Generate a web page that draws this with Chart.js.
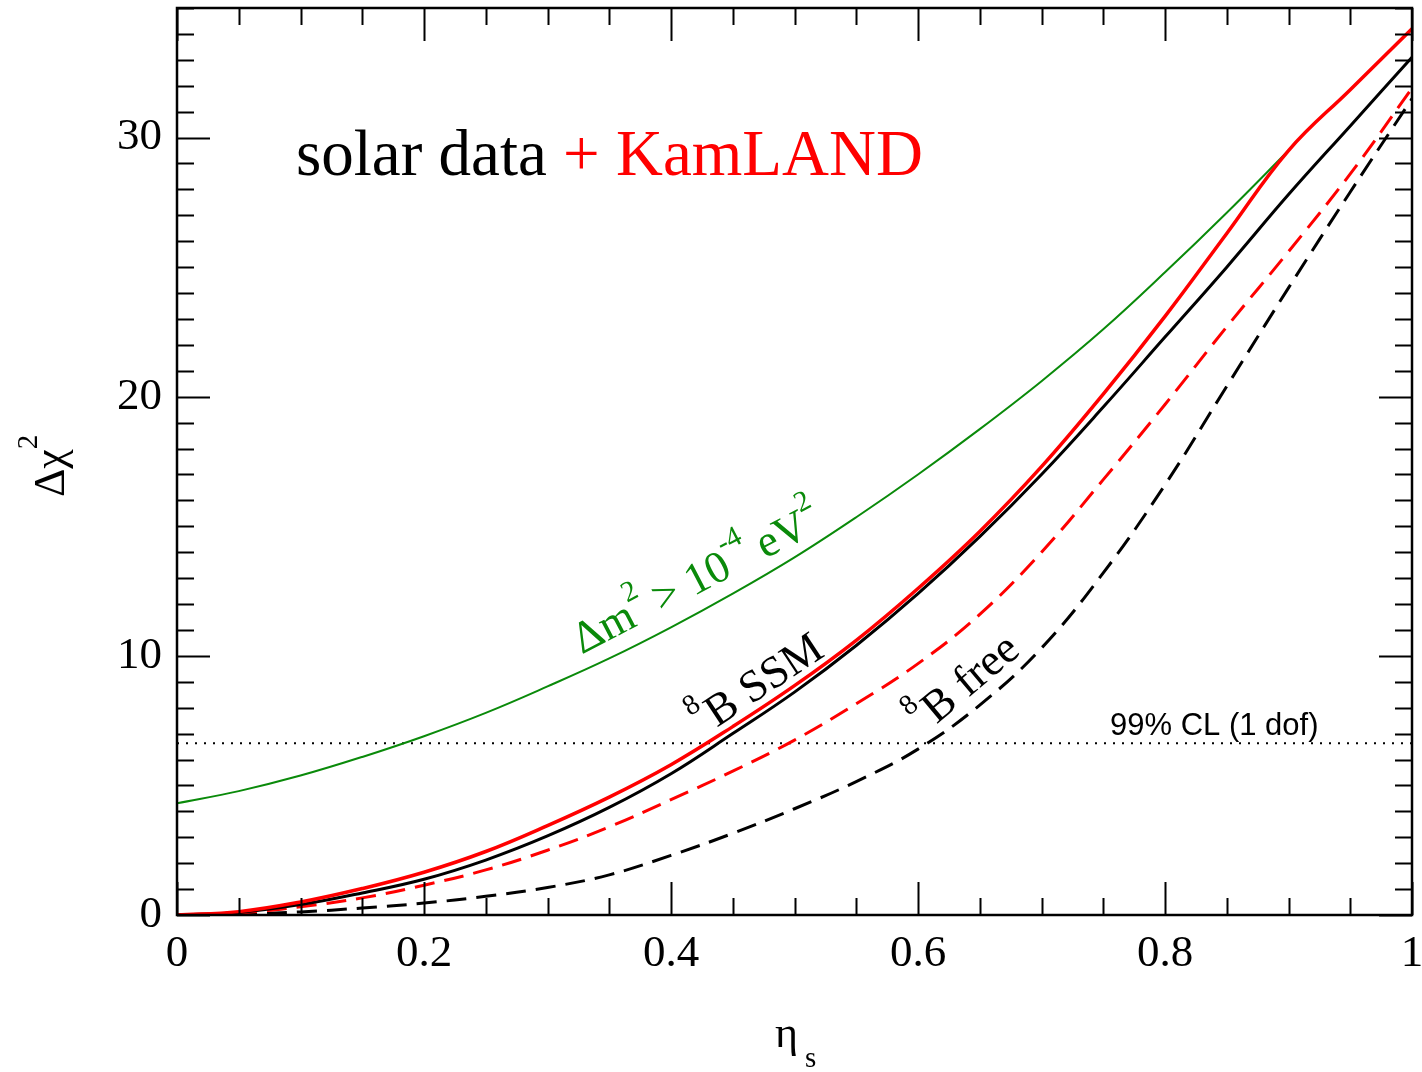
<!DOCTYPE html>
<html>
<head>
<meta charset="utf-8">
<script src="https://cdn.jsdelivr.net/npm/chart.js@4.4.0/dist/chart.umd.min.js"></script>
<style>
  html, body { margin: 0; padding: 0; background: #fff; }
  #chart { display: block; }
</style>
</head>
<body>
<canvas id="chart" width="1422" height="1072"></canvas>
<script>
// eta_s grid, step 0.05
const eta = [0, 0.05, 0.1, 0.15, 0.2, 0.25, 0.3, 0.35, 0.4, 0.45, 0.5,
             0.55, 0.6, 0.65, 0.7, 0.75, 0.8, 0.85, 0.9, 0.95, 1];

// 8B SSM, solar data (black solid)
const ssmSolar = [0, 0.1, 0.4, 0.85, 1.38, 2.12, 3.05, 4.15, 5.45, 7.0, 8.6,
                  10.4, 12.4, 14.6, 17.0, 19.6, 22.3, 25.0, 27.8, 30.45, 33.1];
// 8B SSM, solar + KamLAND (red solid)
const ssmKamland = [0, 0.13, 0.5, 1.02, 1.65, 2.45, 3.45, 4.55, 5.8, 7.27, 8.85,
                    10.6, 12.6, 14.8, 17.3, 20.1, 23.1, 26.3, 29.5, 31.85, 34.2];
// 8B free, solar data (black dashed)
const freeSolar = [0, 0.03, 0.12, 0.27, 0.46, 0.72, 1.06, 1.55, 2.3, 3.15, 4.1,
                   5.15, 6.4, 8.1, 10.3, 13.2, 16.6, 20.4, 24.2, 27.9, 31.5];
// 8B free, solar + KamLAND (red dashed)
const freeKamland = [0, 0.08, 0.32, 0.66, 1.15, 1.74, 2.5, 3.4, 4.45, 5.55, 6.75,
                     8.15, 9.7, 11.6, 14.0, 16.8, 19.7, 22.7, 25.6, 28.6, 31.9];
// Dm2 > 1e-4 eV2 (green), drawn up to eta = 0.9
const highDm2 = [4.31, 4.78, 5.38, 6.1, 6.9, 7.8, 8.82, 9.9, 11.1, 12.4, 13.8,
                 15.35, 17.0, 18.75, 20.6, 22.6, 24.8, 27.1, 29.5];

const clLevel = 6.63; // 99% CL, 1 dof

const xMajor = [0, 0.2, 0.4, 0.6, 0.8, 1];
const xMajorLabels = ['0', '0.2', '0.4', '0.6', '0.8', '1'];
const yMajor = [0, 10, 20, 30];
const yMajorLabels = ['0', '10', '20', '30'];

const SERIF = '"Liberation Serif", "Times New Roman", serif';
const SANS = '"Liberation Sans", Arial, sans-serif';
const GREEN = '#0a8a0a';

function pts(values) {
    return values.map((v, i) => ({ x: eta[i], y: v }));
}

function majorIndex(list, v) {
    return list.findIndex(m => Math.abs(m - v) < 1e-6);
}

// inward ticks on all four sides plus the frame
const framePlugin = {
    id: 'frame',
    afterDatasetsDraw(chart) {
        const { ctx, chartArea: a, scales: { x, y } } = chart;
        ctx.save();
        ctx.strokeStyle = '#000';
        ctx.lineWidth = 2;
        ctx.beginPath();
        x.ticks.forEach(t => {
            const px = Math.round(x.getPixelForValue(t.value)) + 0.5;
            const len = majorIndex(xMajor, t.value) >= 0 ? 33 : 17;
            ctx.moveTo(px, a.bottom); ctx.lineTo(px, a.bottom - len);
            ctx.moveTo(px, a.top); ctx.lineTo(px, a.top + len);
        });
        y.ticks.forEach(t => {
            const py = Math.round(y.getPixelForValue(t.value)) + 0.5;
            const len = majorIndex(yMajor, t.value) >= 0 ? 33 : 17;
            ctx.moveTo(a.left, py); ctx.lineTo(a.left + len, py);
            ctx.moveTo(a.right, py); ctx.lineTo(a.right - len, py);
        });
        ctx.stroke();
        ctx.lineWidth = 2.5;
        ctx.strokeRect(a.left, a.top, a.width, a.height);
        ctx.restore();
    }
};

// curve labels (anchor = baseline start of the main text)
const curveNotes = [
    { sup: '8', text: 'B SSM', eta: 0.437, chi: 7.23, angle: 33.5 },
    { sup: '8', text: 'B free', eta: 0.615, chi: 7.35, angle: 40 }
];

function drawRun(ctx, parts, size, supSize, raise) {
    // parts: [text, isSup]
    let xPos = 0;
    parts.forEach(([txt, sup]) => {
        ctx.font = (sup ? supSize : size) + 'px ' + SERIF;
        ctx.fillText(txt, xPos, sup ? -raise : 0);
        xPos += ctx.measureText(txt).width;
    });
}

const textPlugin = {
    id: 'texts',
    afterDraw(chart) {
        const { ctx, scales: { x, y } } = chart;
        ctx.save();
        ctx.textBaseline = 'alphabetic';
        ctx.textAlign = 'left';

        // title
        ctx.font = '65px ' + SERIF;
        ctx.fillStyle = '#000';
        ctx.fillText('solar data ', 296, 175);
        const w = ctx.measureText('solar data ').width;
        ctx.fillStyle = '#ff0000';
        ctx.fillText('+ KamLAND', 296 + w, 175);

        // y axis title
        ctx.fillStyle = '#000';
        ctx.save();
        ctx.translate(64, 497);
        ctx.rotate(-Math.PI / 2);
        drawRun(ctx, [['\u0394\u03c7', false], ['2', true]], 44, 29, 27);
        ctx.restore();

        // x axis title
        ctx.font = '44px ' + SERIF;
        ctx.fillText('\u03b7', 775, 1047);
        ctx.font = '29px ' + SERIF;
        ctx.fillText('s', 805, 1067);

        // CL line label
        ctx.font = '31px ' + SANS;
        ctx.fillText('99% CL (1 dof)', 1110, 735);

        // black curve labels
        curveNotes.forEach(n => {
            ctx.save();
            ctx.translate(x.getPixelForValue(n.eta), y.getPixelForValue(n.chi));
            ctx.rotate(-n.angle * Math.PI / 180);
            ctx.font = '29px ' + SERIF;
            ctx.fillText(n.sup, -16, -24);
            ctx.font = '45px ' + SERIF;
            ctx.fillText(n.text, 0, 0);
            ctx.restore();
        });

        // green label
        ctx.save();
        ctx.fillStyle = GREEN;
        ctx.translate(x.getPixelForValue(0.3277), y.getPixelForValue(10.05));
        ctx.rotate(-27.5 * Math.PI / 180);
        drawRun(ctx, [['\u0394m', false], ['2', true], [' > 10', false], ['-4', true],
                      [' eV', false], ['2', true]], 45, 29, 25);
        ctx.restore();

        ctx.restore();
    }
};

new Chart(document.getElementById('chart'), {
    type: 'line',
    data: {
        datasets: [
            { data: pts(ssmKamland), borderColor: '#ff0000', borderWidth: 3.5, order: 0 },
            { data: pts(ssmSolar), borderColor: '#000', borderWidth: 3, order: 1 },
            { data: pts(freeKamland), borderColor: '#ff0000', borderWidth: 3, borderDash: [20, 10], order: 2 },
            { data: pts(freeSolar), borderColor: '#000', borderWidth: 3, borderDash: [20, 10], order: 3 },
            { data: pts(highDm2), borderColor: GREEN, borderWidth: 2, order: 4 },
            { data: [{ x: 0, y: clLevel }, { x: 1, y: clLevel }], borderColor: '#000',
              borderWidth: 2, borderDash: [2, 7], order: 5, tension: 0 }
        ]
    },
    options: {
        responsive: false,
        animation: false,
        devicePixelRatio: 1,
        layout: { padding: { top: 8, right: 10, left: 0, bottom: 0 } },
        elements: {
            point: { radius: 0 },
            line: { tension: 0.4, fill: false }
        },
        plugins: { legend: { display: false }, tooltip: { enabled: false } },
        scales: {
            x: {
                type: 'linear',
                min: 0,
                max: 1,
                grid: { display: false, drawTicks: false },
                border: { display: false },
                ticks: {
                    stepSize: 0.05,
                    autoSkip: false,
                    maxTicksLimit: 100,
                    maxRotation: 0,
                    padding: 12,
                    color: '#000',
                    font: { family: 'Liberation Serif', size: 45 },
                    callback: v => {
                        const i = majorIndex(xMajor, v);
                        return i >= 0 ? xMajorLabels[i] : '';
                    }
                },
                afterFit: s => { s.height = 157; s.paddingLeft = 0; s.paddingRight = 0; }
            },
            y: {
                type: 'linear',
                min: 0,
                max: 35,
                grid: { display: false, drawTicks: false },
                border: { display: false },
                ticks: {
                    stepSize: 1,
                    autoSkip: false,
                    maxTicksLimit: 100,
                    padding: 15,
                    color: '#000',
                    font: { family: 'Liberation Serif', size: 45 },
                    callback: v => {
                        const i = majorIndex(yMajor, v);
                        return i >= 0 ? yMajorLabels[i] : '';
                    }
                },
                afterFit: s => { s.width = 177; s.paddingTop = 0; s.paddingBottom = 0; }
            }
        }
    },
    plugins: [framePlugin, textPlugin]
});
</script>
</body>
</html>
